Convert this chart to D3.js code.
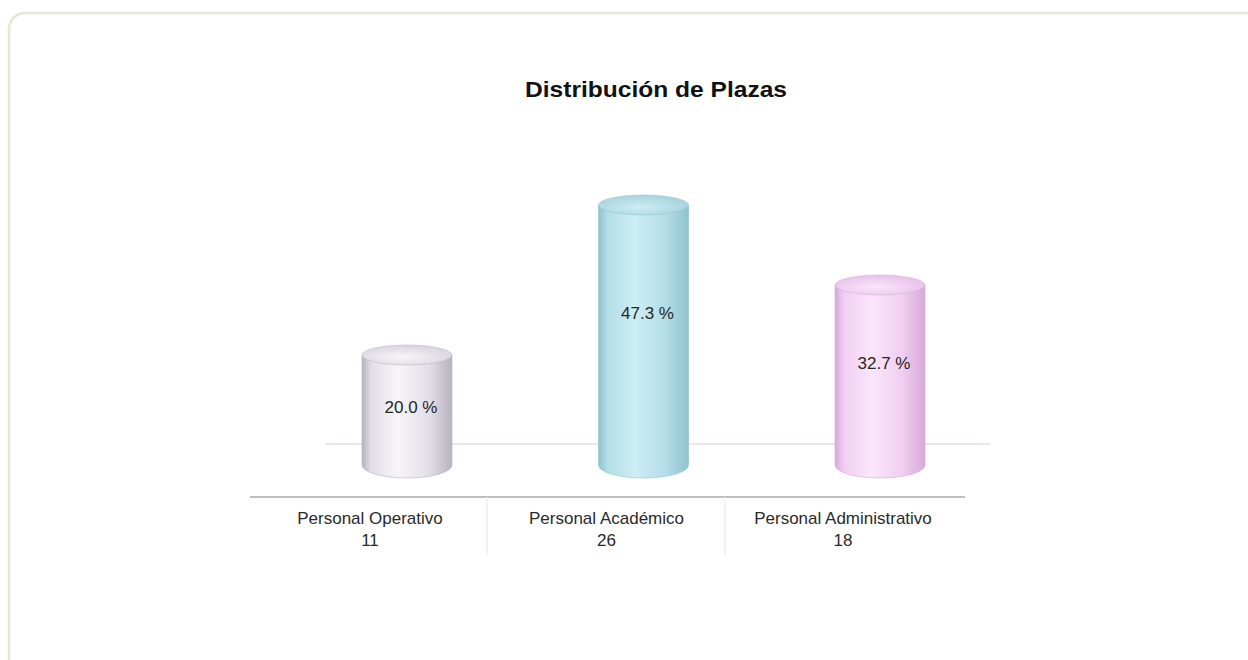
<!DOCTYPE html>
<html><head><meta charset="utf-8">
<script src="https://cdn.jsdelivr.net/npm/d3@7"></script>
<style>
html,body{margin:0;padding:0;background:#fff;}
svg{display:block;font-family:"Liberation Sans",Arial,sans-serif;}
</style></head>
<body>
<svg id="chart" width="1248" height="660"></svg>
<script>
const title = "Distribución de Plazas";
const categories = ["Personal Operativo", "Personal Académico", "Personal Administrativo"];
const counts = [11, 26, 18];
const percentLabels = ["20.0 %", "47.3 %", "32.7 %"];
const palette = [
  {edge:"#b7b2bf", mid:"#e2dee7", light:"#f7f5f9", top:"#d6d2dc"},
  {edge:"#8fc3cf", mid:"#b3dde7", light:"#cdedf5", top:"#a2d0da"},
  {edge:"#d6a9d8", mid:"#f1cef2", light:"#fbe6fb", top:"#e6bde8"}
];

const svg = d3.select("#chart");
const defs = svg.append("defs");

svg.append("rect").attr("x",9).attr("y",13).attr("width",1260).attr("height",680)
  .attr("rx",16).attr("fill","#fff").attr("stroke","#e3e8cf").attr("stroke-width",2.5);

const x = d3.scalePoint().domain(categories).range([407, 880]);
const y = d3.scaleLinear().domain([0, 26]).range([465, 205]);
const barW = 90;
const topRy = 10, botRy = 13;

svg.append("line").attr("x1",325).attr("x2",990).attr("y1",444).attr("y2",444)
  .attr("stroke","#d9cfcc").attr("stroke-width",1);
svg.append("line").attr("x1",250).attr("x2",965).attr("y1",497).attr("y2",497)
  .attr("stroke","#a8a8a8").attr("stroke-width",1.5);
[487, 725].forEach(px => {
  svg.append("line").attr("x1",px).attr("x2",px).attr("y1",497).attr("y2",555)
    .attr("stroke","#efefef").attr("stroke-width",1.5);
});

palette.forEach((p,i) => {
  const g = defs.append("linearGradient").attr("id","body"+i).attr("x1","0").attr("x2","1").attr("y1","0").attr("y2","0");
  g.append("stop").attr("offset","0").attr("stop-color",p.edge);
  g.append("stop").attr("offset","0.1").attr("stop-color",p.mid);
  g.append("stop").attr("offset","0.4").attr("stop-color",p.light);
  g.append("stop").attr("offset","0.75").attr("stop-color",p.mid);
  g.append("stop").attr("offset","1").attr("stop-color",p.edge);
  const t = defs.append("radialGradient").attr("id","top"+i).attr("cx","0.45").attr("cy","0.6").attr("r","0.65");
  t.append("stop").attr("offset","0").attr("stop-color",p.light);
  t.append("stop").attr("offset","1").attr("stop-color",p.top);
});

const bars = svg.append("g").selectAll("g").data(categories).join("g");
bars.each(function(c,i){
  const g = d3.select(this);
  const cx = x(c), base = y(0), top = y(counts[i]);
  const path = `M${cx-barW/2},${top} L${cx-barW/2},${base} A${barW/2},${botRy} 0 0 0 ${cx+barW/2},${base} L${cx+barW/2},${top} Z`;
  g.append("path").attr("d",path).attr("fill",`url(#body${i})`)
    .attr("stroke",palette[i].edge).attr("stroke-width",0.6);
  g.append("ellipse").attr("cx",cx).attr("cy",top).attr("rx",barW/2).attr("ry",topRy)
    .attr("fill",`url(#top${i})`).attr("stroke",palette[i].edge).attr("stroke-width",0.5);
  g.append("text").attr("x",cx+4).attr("y",y(counts[i]*0.627)+17)
    .attr("text-anchor","middle").attr("font-size",17).attr("fill","#262626")
    .text(percentLabels[i]);
});

const labs = svg.append("g").selectAll("text").data(categories).join("text")
  .attr("x", c => x(c)-37).attr("y",524).attr("text-anchor","middle")
  .attr("font-size",17).attr("fill","#2a2a2a");
labs.append("tspan").attr("x", c => x(c)-37).text(c => c);
labs.append("tspan").attr("x", c => x(c)-37).attr("dy",22).text((c,i) => counts[i]);

svg.append("text").attr("x",656).attr("y",97).attr("text-anchor","middle")
  .attr("font-size",22).attr("font-weight","bold").attr("fill","#111")
  .attr("textLength",262).attr("lengthAdjust","spacingAndGlyphs").text(title);
</script>
</body></html>
